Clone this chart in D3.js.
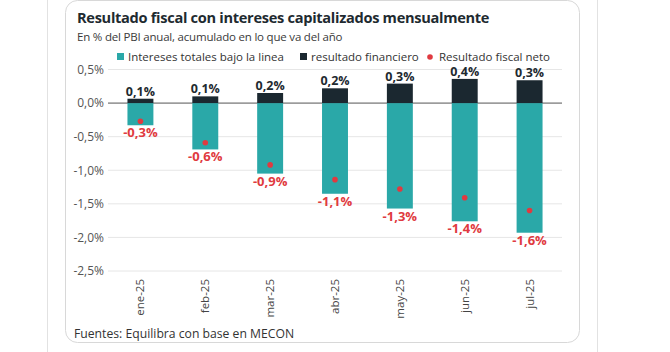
<!DOCTYPE html>
<html>
<head>
<meta charset="utf-8">
<script src="https://cdn.jsdelivr.net/npm/d3@7"></script>
<style>
  body { margin: 0; background: #fff; }
  svg { display: block; font-family: "Open Sans", sans-serif; }
</style>
</head>
<body>
<svg width="670" height="352"></svg>
<script>
// months on the x axis
var months = ['ene-25', 'feb-25', 'mar-25', 'abr-25', 'may-25', 'jun-25', 'jul-25'];
// % of GDP
var financiero = [0.065, 0.10, 0.15, 0.22, 0.29, 0.36, 0.34];
var intereses = [-0.33, -0.69, -1.05, -1.35, -1.57, -1.76, -1.93];
var neto = [-0.27, -0.59, -0.92, -1.14, -1.28, -1.41, -1.60];
var finLabels = ['0,1%', '0,1%', '0,2%', '0,2%', '0,3%', '0,4%', '0,3%'];
var netoLabels = ['-0,3%', '-0,6%', '-0,9%', '-1,1%', '-1,3%', '-1,4%', '-1,6%'];
var yTicks = [0.5, 0, -0.5, -1.0, -1.5, -2.0, -2.5];

var teal = '#2aa8a8';
var dark = '#1b2830';
var red = '#e03a40';

var svg = d3.select('svg');

// page edges and card
svg.append('line').attr('x1', 47.5).attr('x2', 47.5).attr('y1', 0).attr('y2', 352)
    .attr('stroke', '#e2e2e2');
svg.append('line').attr('x1', 597.5).attr('x2', 597.5).attr('y1', 0).attr('y2', 352)
    .attr('stroke', '#e2e2e2');
svg.append('rect')
    .attr('x', 65.5).attr('y', 0.5).attr('width', 514).attr('height', 342)
    .attr('rx', 12)
    .attr('fill', '#fff').attr('stroke', '#d8d8d8');

svg.append('text')
    .attr('x', 77).attr('y', 23)
    .attr('font-size', 14.6).attr('font-weight', 700).attr('fill', '#1e2a30')
    .attr('letter-spacing', -0.3)
    .text('Resultado fiscal con intereses capitalizados mensualmente');
svg.append('text')
    .attr('x', 77).attr('y', 41)
    .attr('font-size', 11.5).attr('fill', '#3a3a3a')
    .attr('letter-spacing', -0.2)
    .text('En % del PBI anual, acumulado en lo que va del año');

var x = d3.scaleBand().domain(months).range([108, 562]).paddingInner(0.6).paddingOuter(0.3);
var y = d3.scaleLinear().domain([-2.5, 0.5]).range([271, 69.5]);

// grid
svg.append('g')
    .selectAll('line')
    .data(yTicks)
    .join('line')
    .attr('x1', 108).attr('x2', 562)
    .attr('y1', d => y(d)).attr('y2', d => y(d))
    .attr('stroke', d => d === 0 ? '#555' : '#e6e6e6')
    .attr('stroke-width', 1);

var yAxis = d3.axisLeft(y).tickValues(yTicks).tickSize(0).tickPadding(4)
    .tickFormat(d => d3.format('.1f')(d).replace('.', ',').replace('−', '-') + '%');
svg.append('g')
    .attr('transform', 'translate(108,0)')
    .call(yAxis)
    .call(g => g.select('.domain').remove())
    .selectAll('text')
    .attr('font-size', 12).attr('fill', '#555').attr('font-family', '"Open Sans", sans-serif');

// bars
svg.append('g').selectAll('rect')
    .data(months)
    .join('rect')
    .attr('x', d => x(d))
    .attr('width', x.bandwidth())
    .attr('y', y(0))
    .attr('height', (d, i) => y(intereses[i]) - y(0))
    .attr('fill', teal);

svg.append('g').selectAll('rect')
    .data(months)
    .join('rect')
    .attr('x', d => x(d))
    .attr('width', x.bandwidth())
    .attr('y', (d, i) => y(financiero[i]))
    .attr('height', (d, i) => y(0) - y(financiero[i]))
    .attr('fill', dark);

svg.append('g').selectAll('circle')
    .data(months)
    .join('circle')
    .attr('cx', d => x(d) + x.bandwidth() / 2)
    .attr('cy', (d, i) => y(neto[i]))
    .attr('r', 2.8)
    .attr('fill', red);

// value labels
svg.append('g').selectAll('text')
    .data(months)
    .join('text')
    .attr('x', d => x(d) + x.bandwidth() / 2)
    .attr('y', (d, i) => y(financiero[i]) - 3)
    .attr('text-anchor', 'middle')
    .attr('font-size', 12.5).attr('font-weight', 700).attr('fill', '#1e2a30')
    .text((d, i) => finLabels[i]);

svg.append('g').selectAll('text')
    .data(months)
    .join('text')
    .attr('x', d => x(d) + x.bandwidth() / 2)
    .attr('y', (d, i) => y(intereses[i]) + 12)
    .attr('text-anchor', 'middle')
    .attr('font-size', 13).attr('font-weight', 700).attr('fill', red)
    .text((d, i) => netoLabels[i]);

// x axis labels
svg.append('g').selectAll('text')
    .data(months)
    .join('text')
    .attr('transform', d => `translate(${x(d) + x.bandwidth() / 2 + 4},279) rotate(-90)`)
    .attr('text-anchor', 'end')
    .attr('font-size', 11.5).attr('fill', '#444')
    .text(d => d);

// legend
var legend = svg.append('g').attr('transform', 'translate(117,57)');
legend.append('rect').attr('x', 0).attr('y', -4).attr('width', 7).attr('height', 7).attr('fill', teal);
legend.append('text').attr('x', 11).attr('y', 3.5).attr('font-size', 11.5).attr('fill', '#333')
    .text('Intereses totales bajo la linea');
legend.append('rect').attr('x', 183).attr('y', -4).attr('width', 7).attr('height', 7).attr('fill', dark);
legend.append('text').attr('x', 194).attr('y', 3.5).attr('font-size', 11.5).attr('fill', '#333')
    .text('resultado financiero');
legend.append('circle').attr('cx', 313).attr('cy', 0).attr('r', 2.8).attr('fill', red);
legend.append('text').attr('x', 322).attr('y', 3.5).attr('font-size', 11.5).attr('fill', '#333')
    .text('Resultado fiscal neto');

svg.append('text')
    .attr('x', 74).attr('y', 338)
    .attr('font-size', 12.2).attr('fill', '#333')
    .text('Fuentes: Equilibra con base en MECON');
</script>
</body>
</html>
